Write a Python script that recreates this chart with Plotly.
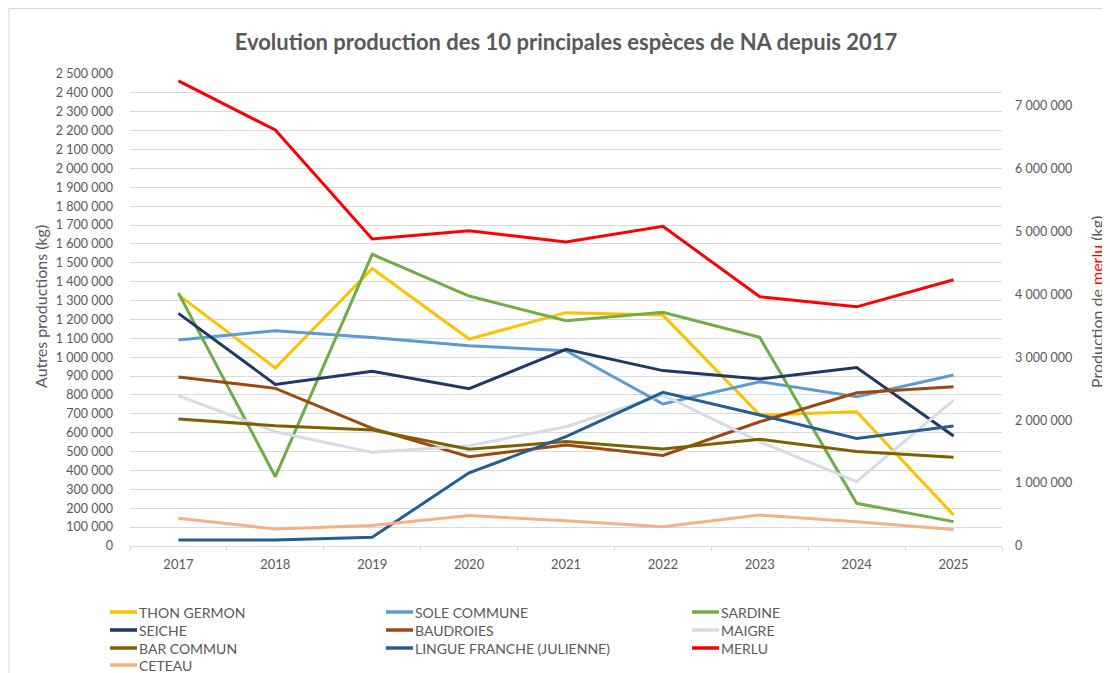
import plotly.graph_objects as go

years = ["2017", "2018", "2019", "2020", "2021", "2022", "2023", "2024", "2025"]

thon_germon = [1330000, 943000, 1470000, 1096000, 1236000, 1223000, 694000, 711000, 164000]
sole_commune = [1091000, 1140000, 1105000, 1061000, 1034000, 752000, 870000, 791000, 906000]
sardine = [1340000, 367000, 1545000, 1324000, 1193000, 1238000, 1105000, 226000, 129000]
seiche = [1232000, 856000, 925000, 833000, 1042000, 929000, 885000, 945000, 583000]
baudroies = [895000, 835000, 623000, 473000, 535000, 480000, 658000, 812000, 844000]
maigre = [796000, 605000, 496000, 531000, 632000, 800000, 552000, 341000, 773000]
bar_commun = [673000, 637000, 614000, 512000, 553000, 514000, 565000, 500000, 470000]
lingue_franche = [32000, 32000, 46000, 388000, 579000, 814000, 694000, 570000, 636000]
merlu = [7390000, 6610000, 4880000, 5010000, 4830000, 5080000, 3960000, 3800000, 4230000]
ceteau = [147000, 90000, 108000, 161000, 134000, 102000, 164000, 129000, 88000]

left_tickvals = list(range(0, 2500001, 100000))
right_tickvals = list(range(0, 7000001, 1000000))

series = [
    ("THON GERMON", thon_germon, "#FFC000", "y"),
    ("SOLE COMMUNE", sole_commune, "#5B9BD5", "y"),
    ("SARDINE", sardine, "#70AD47", "y"),
    ("SEICHE", seiche, "#203864", "y"),
    ("BAUDROIES", baudroies, "#9E480E", "y"),
    ("MAIGRE", maigre, "#D6DCE5", "y"),
    ("BAR COMMUN", bar_commun, "#7F6000", "y"),
    ("LINGUE FRANCHE (JULIENNE)", lingue_franche, "#255E91", "y"),
    ("MERLU", merlu, "#FF0000", "y2"),
    ("CETEAU", ceteau, "#F4B183", "y"),
]

FONT = "Lato, 'Open Sans', sans-serif"
GREY = "#595959"
OFF = 8  # page body margin
W, H = 1110 - OFF, 673 - OFF
ML, MT = 130 - OFF, 74 - OFF
MR = W - (1002 - OFF)
MB = H - (546 - OFF)
PW, PH = W - ML - MR, H - MT - MB


def px(x):
    # screen x -> paper x
    return (x - OFF - ML) / PW


def py(y):
    # screen y -> paper y
    return (H - MB - (y - OFF)) / PH


fig = go.Figure()
for name, vals, color, ax in series:
    fig.add_trace(go.Scatter(
        x=years, y=vals, name=name, mode="lines",
        line=dict(color=color, width=3),
        yaxis=ax, showlegend=False,
    ))

# manual legend (3 columns, row by row)
col_x = [110, 386, 692]
row_y = [612, 630, 648, 665]
shapes = []
annotations = []
for i, (name, vals, color, ax) in enumerate(series):
    cx = col_x[i % 3]
    ry = row_y[i // 3]
    shapes.append(dict(type="line", xref="paper", yref="paper",
                       x0=px(cx), x1=px(cx + 27), y0=py(ry), y1=py(ry),
                       line=dict(color=color, width=3.5)))
    annotations.append(dict(text=name, xref="paper", yref="paper",
                            x=px(cx + 27), y=py(ry), xanchor="left", yanchor="middle",
                            showarrow=False, font=dict(size=14, color=GREY, family=FONT)))

# chart frame
shapes.append(dict(type="rect", xref="paper", yref="paper",
                   x0=px(9), x1=px(1130), y0=py(8.5), y1=py(720),
                   line=dict(color="#D9D9D9", width=1), fillcolor="rgba(0,0,0,0)", layer="below"))

# axis titles
annotations.append(dict(text="Autres productions (kg)", xref="paper", yref="paper",
                        x=px(40), y=py(307), textangle=-90, showarrow=False,
                        xanchor="center", yanchor="middle",
                        font=dict(size=16, color=GREY, family=FONT)))
annotations.append(dict(text="Production de <span style='color:#FF0000'>merlu</span> (kg)",
                        xref="paper", yref="paper",
                        x=px(1096), y=py(302), textangle=-90, showarrow=False,
                        xanchor="center", yanchor="middle",
                        font=dict(size=16, color=GREY, family=FONT)))

fig.update_layout(
    width=W, height=H,
    margin=dict(l=ML, r=MR, t=MT, b=MB),
    paper_bgcolor="white", plot_bgcolor="white",
    separators=", ",
    font=dict(family=FONT, color=GREY, size=12.5),
    title=dict(
        text="<b>Evolution production des 10 principales espèces de NA depuis 2017</b>",
        x=0.5, xref="paper", xanchor="center", y=1 - (42 - OFF) / H, yanchor="middle",
        font=dict(size=22, color=GREY, family=FONT),
    ),
    xaxis=dict(
        type="category", range=[-0.5, 8.5], automargin=False,
        showgrid=False, showline=True, linecolor="#D9D9D9", linewidth=1,
        ticks="outside", tickson="boundaries", ticklen=4, tickcolor="#D9D9D9",
        ticklabelstandoff=6,
        tickfont=dict(size=13, color=GREY),
    ),
    yaxis=dict(
        range=[0, 2500000], tickvals=left_tickvals, tickformat=",.0f",
        automargin=False,
        showgrid=True, gridcolor="#D9D9D9", gridwidth=1,
        zeroline=False, showline=False, ticks="", ticklabelstandoff=16,
        tickfont=dict(size=12.5, color=GREY),
    ),
    yaxis2=dict(
        range=[0, 7500000], tickvals=right_tickvals, tickformat=",.0f",
        automargin=False,
        overlaying="y", side="right", showgrid=False, zeroline=False,
        showline=False, ticks="", ticklabelstandoff=12,
        tickfont=dict(size=12.5, color=GREY),
    ),
    shapes=shapes,
    annotations=annotations,
    showlegend=False,
)

fig.write_html("out.html")
